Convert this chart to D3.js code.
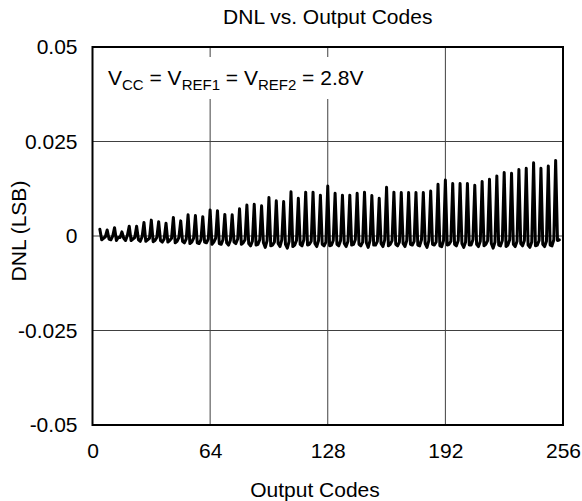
<!DOCTYPE html>
<html>
<head>
<meta charset="utf-8">
<script src="https://cdn.jsdelivr.net/npm/d3@7/dist/d3.min.js"></script>
<style>
  html, body { margin: 0; padding: 0; background: #fff; }
  svg { display: block; }
  text { font-family: "Liberation Sans", Arial, sans-serif; fill: #000; }
</style>
</head>
<body>
<svg id="chart" width="582" height="501"></svg>
<script>
// ---- data ----
const title = "DNL vs. Output Codes";
const xLabel = "Output Codes";
const yLabel = "DNL (LSB)";
const xTicks = [0, 64, 128, 192, 256];
const yTicks = [0.05, 0.025, 0, -0.025, -0.05];
const yTickLabels = ["0.05", "0.025", "0", "-0.025", "-0.05"];
const firstCode = 4;     // first plotted code
const period = 4;        // codes per spike period

// spike value at codes 4, 8, ..., 252
const peaks = [
  0.0018, 0.0016, 0.0022, 0.0011, 0.0026, 0.0026, 0.0036, 0.0042, 0.0038, 0.0034, 0.0049, 0.0040, 0.0056, 0.0054, 0.0051, 0.0069,
  0.0067, 0.0057, 0.0056, 0.0072, 0.0082, 0.0084, 0.0080, 0.0102, 0.0093, 0.0091, 0.0117, 0.0100, 0.0116, 0.0116, 0.0108, 0.0132,
  0.0113, 0.0108, 0.0108, 0.0113, 0.0116, 0.0107, 0.0100, 0.0129, 0.0116, 0.0115, 0.0115, 0.0115, 0.0115, 0.0119, 0.0137, 0.0148,
  0.0139, 0.0139, 0.0139, 0.0134, 0.0144, 0.0150, 0.0159, 0.0168, 0.0166, 0.0176, 0.0179, 0.0194, 0.0179, 0.0185, 0.0200
];
// value one code after each spike
const valleyA = [
  -0.0010,-0.0008,-0.0012,-0.0006,-0.0012,-0.0010,-0.0014,-0.0015,-0.0012,-0.0016,-0.0018,-0.0014,-0.0020,-0.0018,-0.0016,-0.0022,
  -0.0020,-0.0018,-0.0016,-0.0022,-0.0020,-0.0024,-0.0018,-0.0026,-0.0020,-0.0022,-0.0028,-0.0022,-0.0024,-0.0020,-0.0022,-0.0026,
  -0.0022,-0.0020,-0.0024,-0.0022,-0.0018,-0.0024,-0.0020,-0.0026,-0.0022,-0.0020,-0.0022,-0.0024,-0.0020,-0.0022,-0.0026,-0.0024,
  -0.0022,-0.0020,-0.0024,-0.0022,-0.0026,-0.0020,-0.0024,-0.0028,-0.0022,-0.0020,-0.0024,-0.0026,-0.0022,-0.0024,-0.0012
];
// value two codes after each spike
const valleyB = [
  -0.0006,-0.0010,-0.0004,-0.0012,-0.0008,-0.0014,-0.0010,-0.0012,-0.0016,-0.0012,-0.0014,-0.0018,-0.0016,-0.0020,-0.0018,-0.0016,
  -0.0022,-0.0024,-0.0020,-0.0018,-0.0026,-0.0022,-0.0030,-0.0024,-0.0028,-0.0032,-0.0024,-0.0026,-0.0022,-0.0028,-0.0026,-0.0024,
  -0.0026,-0.0028,-0.0022,-0.0026,-0.0030,-0.0024,-0.0028,-0.0022,-0.0026,-0.0028,-0.0024,-0.0026,-0.0030,-0.0024,-0.0028,-0.0022,
  -0.0026,-0.0030,-0.0024,-0.0028,-0.0022,-0.0032,-0.0026,-0.0024,-0.0028,-0.0026,-0.0030,-0.0024,-0.0028,-0.0026,-0.0010
];
// value three codes after each spike
const valleyC = [
  -0.0002, 0.0000,-0.0004, 0.0002,-0.0004,-0.0002,-0.0006,-0.0004,-0.0008,-0.0006,-0.0004,-0.0008,-0.0006,-0.0010,-0.0008,-0.0006,
  -0.0010,-0.0012,-0.0008,-0.0010,-0.0014,-0.0010,-0.0012,-0.0016,-0.0010,-0.0014,-0.0012,-0.0010,-0.0014,-0.0012,-0.0016,-0.0012,
  -0.0012,-0.0014,-0.0010,-0.0016,-0.0012,-0.0014,-0.0010,-0.0012,-0.0016,-0.0012,-0.0014,-0.0010,-0.0012,-0.0016,-0.0012,-0.0014,
  -0.0012,-0.0016,-0.0010,-0.0014,-0.0012,-0.0016,-0.0012,-0.0010,-0.0014,-0.0012,-0.0016,-0.0012,-0.0014,-0.0010
];

// assemble the series from the read values
const series = [];
peaks.forEach((p, k) => {
  const c0 = firstCode + k * period;
  series.push([c0, p]);
  if (k < valleyA.length) series.push([c0 + 1, valleyA[k]]);
  if (k < valleyB.length) series.push([c0 + 2, valleyB[k]]);
  if (k < valleyC.length) series.push([c0 + 3, valleyC[k]]);
});

// ---- layout ----
const FS = 21;
const svg = d3.select("#chart");
const m = { left: 92.5, right: 563, top: 47, bottom: 425 };

const x = d3.scaleLinear().domain([0, 256]).range([m.left, m.right]);
const y = d3.scaleLinear().domain([-0.05, 0.05]).range([m.bottom, m.top]);

// grid
const grid = svg.append("g");
grid.selectAll("line.gx").data(xTicks.slice(1, -1)).join("line")
  .attr("x1", d => x(d)).attr("x2", d => x(d))
  .attr("y1", m.top).attr("y2", m.bottom)
  .attr("stroke", "#404040").attr("stroke-width", 1);
grid.selectAll("line.gy").data(yTicks.slice(1, -1)).join("line")
  .attr("y1", d => y(d)).attr("y2", d => y(d))
  .attr("x1", m.left).attr("x2", m.right)
  .attr("stroke", "#404040").attr("stroke-width", 1);

// annotation box (white background hides grid)
const ann = svg.append("g").attr("transform", `translate(${m.left + 15.5},${m.top + 38})`);
ann.append("rect").attr("x", -6).attr("y", -28).attr("width", 272).attr("height", 42).attr("fill", "#fff");
const t = ann.append("text").attr("font-size", FS);
const parts = [["V",""],["CC","sub"],[" = V",""],["REF1","sub"],[" = V",""],["REF2","sub"],[" = 2.8V",""]];
parts.forEach(([s, k], i) => {
  const ts = t.append("tspan").text(s);
  if (k === "sub") ts.attr("font-size", 15).attr("dy", 5);
  else if (i > 0) ts.attr("dy", -5);
});

// data line
const line = d3.line().x(d => x(d[0])).y(d => y(d[1]));
svg.append("path").datum(series)
  .attr("d", line)
  .attr("fill", "none")
  .attr("stroke", "#000")
  .attr("stroke-width", 3)
  .attr("stroke-linejoin", "round")
  .attr("stroke-linecap", "round");

// frame
svg.append("rect")
  .attr("x", m.left).attr("y", m.top)
  .attr("width", m.right - m.left).attr("height", m.bottom - m.top)
  .attr("fill", "none").attr("stroke", "#000").attr("stroke-width", 2);

// axes (labels only)
const xAxis = d3.axisBottom(x).tickValues(xTicks).tickSize(0).tickPadding(18).tickFormat(d3.format("d"));
const gx = svg.append("g").attr("transform", `translate(0,${m.bottom})`).call(xAxis);
gx.select(".domain").remove();
gx.selectAll("text").attr("font-size", FS).attr("font-family", "Liberation Sans, Arial, sans-serif");

const yAxis = d3.axisLeft(y).tickValues(yTicks).tickSize(0).tickPadding(15)
  .tickFormat((d, i) => yTickLabels[i]);
const gy = svg.append("g").attr("transform", `translate(${m.left},0)`).call(yAxis);
gy.select(".domain").remove();
gy.selectAll("text").attr("font-size", FS).attr("font-family", "Liberation Sans, Arial, sans-serif");

// titles
svg.append("text").attr("x", (m.left + m.right) / 2).attr("y", 24)
  .attr("text-anchor", "middle").attr("font-size", FS).text(title);
svg.append("text").attr("x", 315).attr("y", 497)
  .attr("text-anchor", "middle").attr("font-size", FS).text(xLabel);
svg.append("text").attr("transform", `translate(26,231) rotate(-90)`)
  .attr("text-anchor", "middle").attr("font-size", FS).text(yLabel);
</script>
</body>
</html>
